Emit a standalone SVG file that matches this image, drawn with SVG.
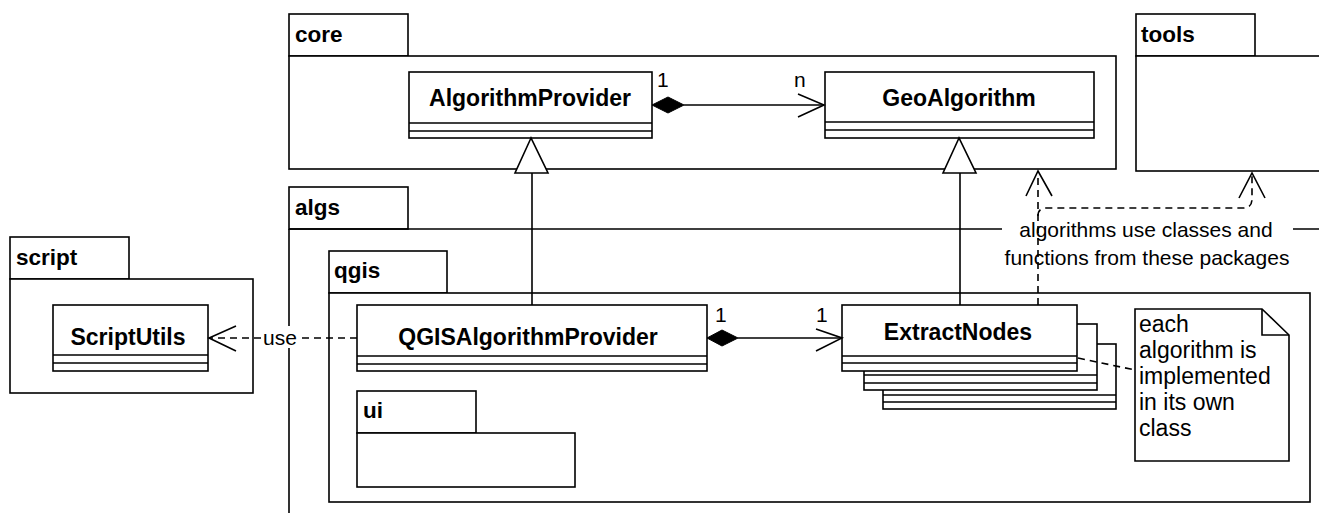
<svg xmlns="http://www.w3.org/2000/svg" width="1319" height="513" viewBox="0 0 1319 513">
<style>
.box{fill:#fff;stroke:#000;stroke-width:1.6}
.ln{fill:none;stroke:#000;stroke-width:1.6}
.dash{fill:none;stroke:#000;stroke-width:1.6;stroke-dasharray:7,5}
.pk{font-family:"Liberation Sans",Arial,sans-serif;font-weight:bold;font-size:22.5px;fill:#000}
.cn{font-family:"Liberation Sans",Arial,sans-serif;font-weight:bold;font-size:23px;fill:#000;text-anchor:middle}
.tx{font-family:"Liberation Sans",Arial,sans-serif;font-size:21px;fill:#000}
.nt{font-family:"Liberation Sans",Arial,sans-serif;font-size:23px;fill:#000}
</style>
<rect width="1319" height="513" fill="#fff"/>

<g id="pkg-core">
  <rect class="box" x="289" y="14" width="119" height="42"/>
  <rect class="box" x="289" y="56" width="827" height="113"/>
  <text class="pk" x="295" y="42">core</text>
</g>
<g id="pkg-tools">
  <rect class="box" x="1136" y="14" width="119" height="42"/>
  <rect class="box" x="1136" y="56" width="200" height="115"/>
  <text class="pk" x="1141" y="42">tools</text>
</g>
<g id="pkg-algs">
  <rect class="box" x="289" y="187" width="119" height="42"/>
  <path class="ln" d="M289,229 V520 M289,229 H1002 M1293,229 H1325"/>
  <text class="pk" x="295" y="215">algs</text>
</g>
<g id="pkg-script">
  <rect class="box" x="10" y="237" width="119" height="42"/>
  <rect class="box" x="10" y="279" width="243" height="114"/>
  <text class="pk" x="16" y="265">script</text>
</g>
<g id="pkg-qgis">
  <rect class="box" x="329" y="251" width="118" height="42"/>
  <rect class="box" x="329" y="293" width="981" height="209"/>
  <text class="pk" x="334" y="278">qgis</text>
</g>
<g id="pkg-ui">
  <rect class="box" x="357" y="391" width="119" height="42"/>
  <rect class="box" x="357" y="433" width="218" height="54"/>
  <text class="pk" x="363" y="418">ui</text>
</g>

<g id="AlgorithmProvider">
  <rect class="box" x="409" y="72" width="243" height="66"/>
  <path class="ln" d="M409,123 H652 M409,131 H652"/>
  <text class="cn" x="530" y="106">AlgorithmProvider</text>
</g>
<g id="GeoAlgorithm">
  <rect class="box" x="825" y="72" width="269" height="66"/>
  <path class="ln" d="M825,122 H1094 M825,130 H1094"/>
  <text class="cn" x="959" y="106">GeoAlgorithm</text>
</g>
<g id="ScriptUtils">
  <rect class="box" x="53" y="305" width="155" height="66"/>
  <path class="ln" d="M53,355 H208 M53,363 H208"/>
  <text class="cn" x="128" y="345">ScriptUtils</text>
</g>
<g id="QGISAlgorithmProvider">
  <rect class="box" x="357" y="305" width="350" height="66"/>
  <path class="ln" d="M357,356 H707 M357,364 H707"/>
  <text class="cn" x="528" y="345">QGISAlgorithmProvider</text>
</g>
<g id="ExtractNodes">
  <rect class="box" x="883" y="344" width="233" height="65"/>
  <path class="ln" d="M883,395 H1116 M883,402 H1116"/>
  <rect class="box" x="864" y="324" width="233" height="66"/>
  <path class="ln" d="M864,375 H1097 M864,383 H1097"/>
  <rect class="box" x="842" y="305" width="235" height="66"/>
  <path class="ln" d="M842,356 H1077 M842,363 H1077"/>
  <text class="cn" x="958" y="340">ExtractNodes</text>
</g>
<g id="note">
  <path class="box" d="M1135,309 H1262 L1289,335 V461 H1135 Z"/>
  <path class="ln" d="M1262,309 V335 H1289"/>
  <text class="nt" x="1139" y="332">each</text>
  <text class="nt" x="1139" y="358">algorithm is</text>
  <text class="nt" x="1139" y="384">implemented</text>
  <text class="nt" x="1139" y="410">in its own</text>
  <text class="nt" x="1139" y="436">class</text>
</g>
<g id="label">
  <text class="tx" x="1146" y="237" text-anchor="middle">algorithms use classes and</text>
  <text class="tx" x="1147" y="265" text-anchor="middle">functions from these packages</text>
</g>

<g id="connectors">
  <!-- composition AlgorithmProvider -> GeoAlgorithm -->
  <path class="ln" d="M684,105 H824"/>
  <path d="M652,105 L668,97 L684,105 L668,113 Z" fill="#000" stroke="#000" stroke-width="1"/>
  <path class="ln" d="M798,94 L824,105 L798,117"/>
  <text class="tx" x="657" y="87">1</text>
  <text class="tx" x="794" y="87">n</text>
  <!-- composition QGIS -> ExtractNodes -->
  <path class="ln" d="M738,338 H842"/>
  <path d="M707,338 L722,330 L738,338 L722,346 Z" fill="#000" stroke="#000" stroke-width="1"/>
  <path class="ln" d="M816,329 L842,338 L816,351"/>
  <text class="tx" x="715" y="322">1</text>
  <text class="tx" x="816" y="322">1</text>
  <!-- generalizations -->
  <path class="ln" d="M532,173 V305"/>
  <path class="box" d="M531,138 L515,173 H548 Z"/>
  <path class="ln" d="M960,173 V305"/>
  <path class="box" d="M959,138 L943,173 H976 Z"/>
  <!-- use dependency -->
  <path class="dash" d="M357,338 H210"/>
  <rect x="262" y="326" width="36" height="22" fill="#fff"/>
  <text class="tx" x="280" y="345" text-anchor="middle" font-size="22">use</text>
  <path class="ln" d="M236,326 L209,338 L236,351"/>
  <!-- algorithms use packages -->
  <path class="dash" d="M1038,305 V173"/>
  <path class="ln" d="M1026,196 L1038,171 L1052,196"/>
  <path class="dash" d="M1038,216 Q1038,208 1046,208 H1243 Q1252,208 1252,199 V175"/>
  <path class="ln" d="M1239,198 L1252,173 L1265,198"/>
  <!-- note anchor -->
  <path class="dash" d="M1078,358 L1135,370"/>
</g>
</svg>
